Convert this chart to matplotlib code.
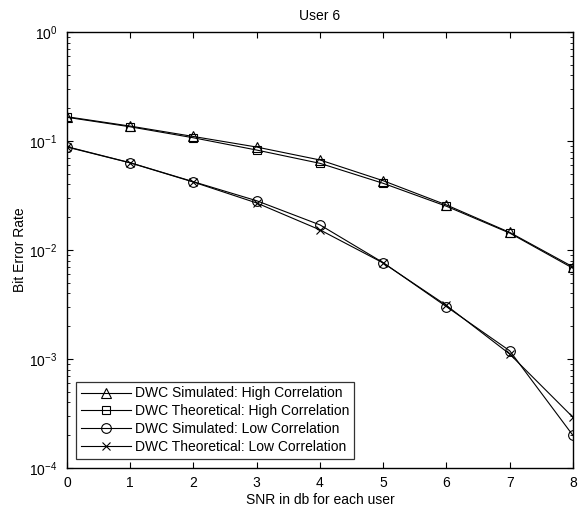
import matplotlib
matplotlib.use("Agg")
import matplotlib.pyplot as plt
from matplotlib.ticker import LogLocator, LogFormatterMathtext, NullFormatter

plt.rcParams['font.family'] = ['Liberation Sans', 'DejaVu Sans']
plt.rcParams['mathtext.fontset'] = 'custom'
plt.rcParams['mathtext.rm'] = 'Liberation Sans'
plt.rcParams['mathtext.it'] = 'Liberation Sans'

snr = [0, 1, 2, 3, 4, 5, 6, 7, 8]
sim_high = [0.167, 0.137, 0.110, 0.088, 0.067, 0.0432, 0.0259, 0.0145, 0.0070]
theo_high = [0.165, 0.135, 0.107, 0.0826, 0.0624, 0.0409, 0.0252, 0.0143, 0.0068]
sim_low = [0.0887, 0.0632, 0.0423, 0.0283, 0.0170, 0.00765, 0.00302, 0.00119, 0.000199]
theo_low = [0.0880, 0.0630, 0.0420, 0.0270, 0.0153, 0.00760, 0.00310, 0.00111, 0.000292]

labels = ["DWC Simulated: High Correlation", "DWC Theoretical: High Correlation",
          "DWC Simulated: Low Correlation", "DWC Theoretical: Low Correlation"]

fig = plt.figure(figsize=(5.79, 5.08), dpi=100)
ax = fig.add_axes([0.1157, 0.0787, 0.8739, 0.8583])

lw = 0.8
ax.plot(snr, sim_high, color='black', lw=lw, marker='^', ms=7, mfc='none', mew=0.8, label=labels[0])
ax.plot(snr, theo_high, color='black', lw=lw, marker='s', ms=6, mfc='none', mew=0.8, label=labels[1])
ax.plot(snr, sim_low, color='black', lw=lw, marker='o', ms=7, mfc='none', mew=0.8, label=labels[2])
ax.plot(snr, theo_low, color='black', lw=lw, marker='x', ms=6, mfc='none', mew=0.8, label=labels[3])

ax.set_yscale('log')
ax.set_xlim(0, 8)
ax.set_ylim(1e-4, 1)
ax.set_xticks(snr)
ax.yaxis.set_major_locator(LogLocator(base=10, numticks=10))
ax.yaxis.set_minor_locator(LogLocator(base=10, subs=range(2, 10), numticks=10))
ax.yaxis.set_major_formatter(LogFormatterMathtext())
ax.yaxis.set_minor_formatter(NullFormatter())
ax.tick_params(which='both', direction='in', top=True, right=True, labelsize=10)
ax.tick_params(which='major', length=4, width=0.8)
ax.tick_params(which='minor', length=2, width=0.6)
ax.tick_params(axis='y', which='major', pad=7)
ax.tick_params(axis='x', which='major', pad=6)
for s in ax.spines.values():
    s.set_linewidth(1.0)

ax.set_title("User 6", fontsize=10, pad=9)
ax.set_xlabel("SNR in db for each user", fontsize=10, labelpad=2)
ax.set_ylabel("Bit Error Rate", fontsize=10)
ax.yaxis.set_label_coords(-0.079, 0.5)

leg = ax.legend(loc='lower left', fontsize=10, frameon=True, fancybox=False,
                edgecolor='black', borderaxespad=0.65, handlelength=3.6,
                borderpad=0.35, labelspacing=0.28, handletextpad=0.3)
leg.get_frame().set_linewidth(0.9)

fig.savefig("out.png", dpi=100)
